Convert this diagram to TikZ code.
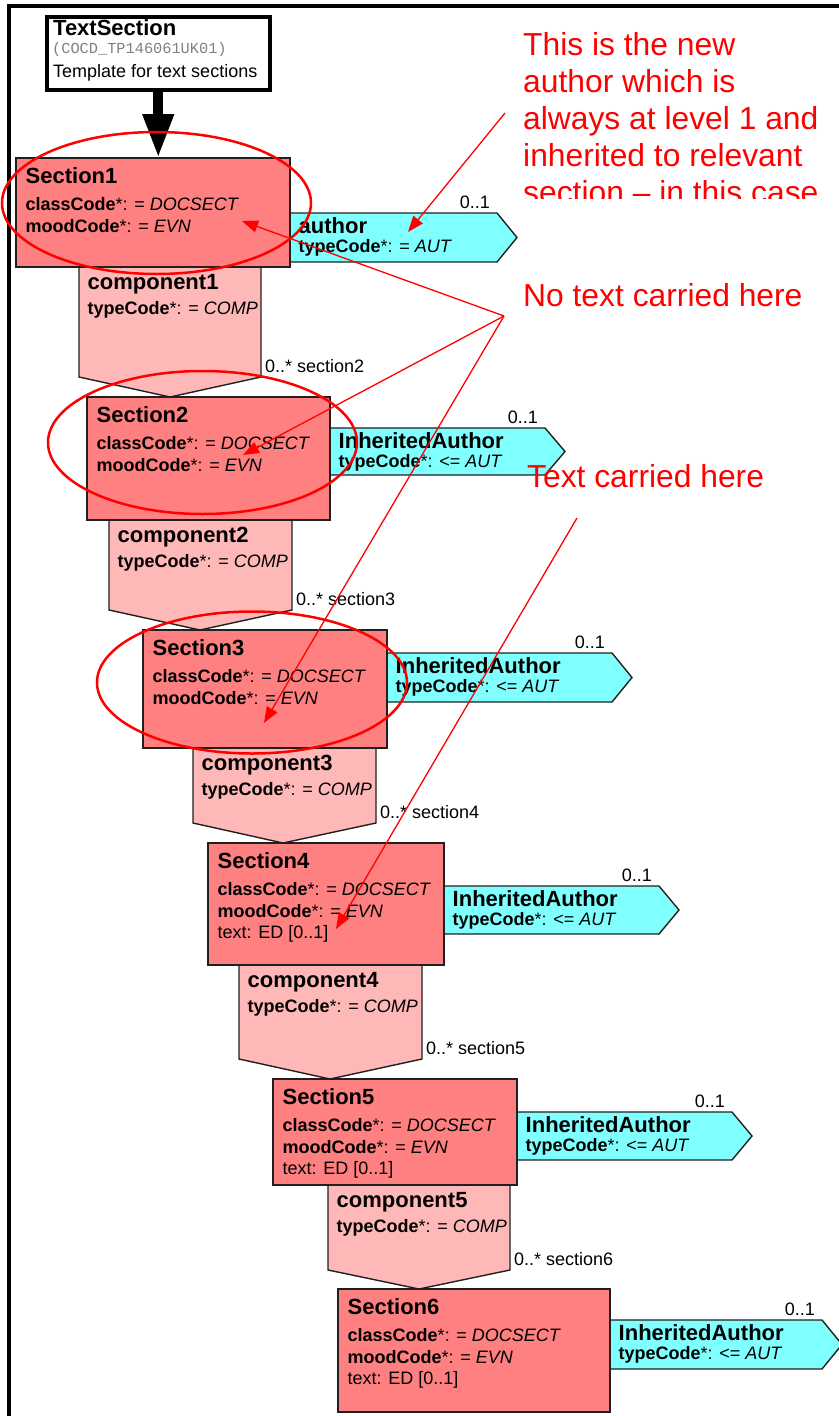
\documentclass[tikz,border=0pt]{standalone}
\usepackage{fontspec}
\setmainfont{Liberation Sans}
\setmonofont{Liberation Mono}
\usetikzlibrary{arrows.meta,shapes.geometric}
\definecolor{sectfill}{HTML}{FF8080}
\definecolor{compfill}{HTML}{FFB8B8}
\definecolor{authfill}{HTML}{80FFFF}
\definecolor{edgecol}{HTML}{202020}
\definecolor{codegrey}{HTML}{808080}

\newcommand\mksect[6]{%
  \node[sectbox, minimum width=#4pt, minimum height=#5pt] (#1) at (#2,#3) {};
  \node[ttl] (#1-t) at (#2+9.5,#3+25) {#6};
  \node[att] (#1-a) at (#2+9.5,#3+52) {\textbf{classCode}*: = \textit{DOCSECT}};
  \node[att] (#1-b) at (#2+9.5,#3+74) {\textbf{moodCode}*: = \textit{EVN}};
}
\newcommand\mktext[3]{%
  \node[att] (#1-x) at (#2+9.5,#3+95) {text: ED [0..1]};
}
\newcommand\mkcomp[9]{%
  \path[compshape] (#2,#4) -- (#3,#4) -- (#3,#5) -- (#6,#7) -- (#2,#5) -- cycle;
  \node[ttl] (#1-t) at (#2+8.5,#4+22) {component#8};
  \node[att] (#1-a) at (#2+8.5,#4+47) {\textbf{typeCode}*: = \textit{COMP}};
  \node[att] (#1-c) at (#3+4,#5-5) {0..* section#9};
}
% name, left, top, bottom, shoulder, point, title, value
\newcommand\mkauth[8]{%
  \path[authshape] (#2,#3) -- (#5,#3) -- (#6,{(#3+#4)/2}) -- (#5,#4) -- (#2,#4);
  \node[ttl] (#1-t) at (#2+8.5,#3+20) {#7};
  \node[att] (#1-a) at (#2+8.5,#3+39) {\textbf{typeCode}*: #8 \textit{AUT}};
  \node[card] (#1-c) at (#5-7,#3-5) {0..1};
}

\begin{document}
\begin{tikzpicture}[x=1pt,y=-1pt,
  sectbox/.style={draw=edgecol, fill=sectfill, line width=1.4pt, anchor=north west, inner sep=0pt, outer sep=0pt},
  compshape/.style={draw=edgecol, fill=compfill, line width=1.4pt, line join=miter},
  authshape/.style={draw=edgecol, fill=authfill, line width=1.4pt, line join=miter},
  ttl/.style={anchor=base west, inner sep=0pt, font=\fontsize{22}{26}\selectfont\bfseries},
  att/.style={anchor=base west, inner sep=0pt, font=\fontsize{18}{21}\selectfont},
  card/.style={anchor=base east, inner sep=0pt, font=\fontsize{18}{21}\selectfont},
  note/.style={anchor=base west, inner sep=0pt, text=red, font=\fontsize{31.8}{37}\selectfont},
  noteline/.style={draw=red, line width=1.3pt},
  notearrow/.style={noteline, -{Triangle[length=16pt,width=12pt]}},
  ring/.style={ellipse, draw=red, line width=2.5pt, inner sep=0pt, outer sep=0pt},
]
\useasboundingbox (0,0) rectangle (838,1416);

% frame
\draw[line width=4pt, line join=miter] (9,1420) -- (9,5.5) -- (840,5.5);

% template box
\node[draw=black, line width=3.5pt, fill=white, minimum width=223pt, minimum height=73pt, anchor=north west, inner sep=0pt] (ts) at (45,15) {};
\node[anchor=base west, inner sep=0pt, font=\fontsize{22}{26}\selectfont\bfseries] (ts-t) at (53,35) {TextSection};
\node[anchor=base west, inner sep=0pt, text=codegrey, font=\ttfamily\fontsize{15.3}{18}\selectfont] (ts-c) at (52,53) {(COCD\_TP146061UK01)};
\node[anchor=base west, inner sep=0pt, font=\fontsize{18}{21}\selectfont] (ts-d) at (53,77) {Template for text sections};

% components
\mkcomp{c1}{79}{261}{267}{377}{170}{397}{1}{2}
\mkcomp{c2}{109}{292}{520}{610}{200}{630}{2}{3}
\mkcomp{c3}{193}{376}{748}{823}{283}{843}{3}{4}
\mkcomp{c4}{239}{422}{965}{1059}{330}{1079}{4}{5}
\mkcomp{c5}{328}{510}{1185}{1270}{419}{1289}{5}{6}

% authors
\mkauth{a1}{290}{213}{262}{497}{517}{author}{=}
\mkauth{a2}{330}{428}{475}{545}{565}{InheritedAuthor}{<=}
\mkauth{a3}{387}{653}{702}{612}{632}{InheritedAuthor}{<=}
\mkauth{a4}{444}{886}{934}{659}{679}{InheritedAuthor}{<=}
\mkauth{a5}{517}{1112}{1160}{732}{752}{InheritedAuthor}{<=}
\mkauth{a6}{610}{1320}{1369}{822}{842}{InheritedAuthor}{<=}

% sections
\mksect{s1}{16}{158}{274}{109}{Section1}
\mksect{s2}{87}{397}{243}{123}{Section2}
\mksect{s3}{143}{630}{244}{118}{Section3}
\mksect{s4}{208}{843}{236}{122}{Section4}
\mktext{s4}{208}{843}
\mksect{s5}{273}{1079}{244}{106}{Section5}
\mktext{s5}{273}{1079}
\mksect{s6}{338}{1289}{272}{123}{Section6}
\mktext{s6}{338}{1289}

% inheritance arrow
\draw[line width=10pt, -{Triangle[length=44pt,width=29pt]}] (ts.south) -- (ts.south |- s1.north);

% ellipses
\node[ring, minimum width=309pt, minimum height=142pt] (e1) at (156.5,203) {};
\node[ring, minimum width=309pt, minimum height=143pt] (e2) at (202.5,442.5) {};
\node[ring, minimum width=310pt, minimum height=142pt] (e3) at (252,682.5) {};

% annotation lines
\coordinate (n1) at (505,113);
\coordinate (n1t) at (408,232);
\coordinate (hub) at (504,316);
\coordinate (h1) at (242,221);
\coordinate (h2) at (243,455);
\coordinate (h3) at (264,723);
\coordinate (tc) at (577,518);
\coordinate (tct) at (336,929);
\draw[notearrow] (n1) -- (n1t);
\draw[notearrow] (hub) -- (h1);
\draw[notearrow] (hub) -- (h2);
\draw[notearrow] (hub) -- (h3);
\draw[notearrow] (tc) -- (tct);

% notes
\begin{scope}
\clip (500,10) rectangle (838,198);
\node[note] (t1) at (523,55) {This is the new};
\node[note] (t2) at (523,92) {author which is};
\node[note] (t3) at (523,129) {always at level 1 and};
\node[note] (t4) at (523,166) {inherited to relevant};
\node[note] (t5) at (523,203) {section – in this case};
\end{scope}
\node[note] (t6) at (523,306) {No text carried here};
\node[note] (t7) at (527,487) {Text carried here};
\end{tikzpicture}
\end{document}
